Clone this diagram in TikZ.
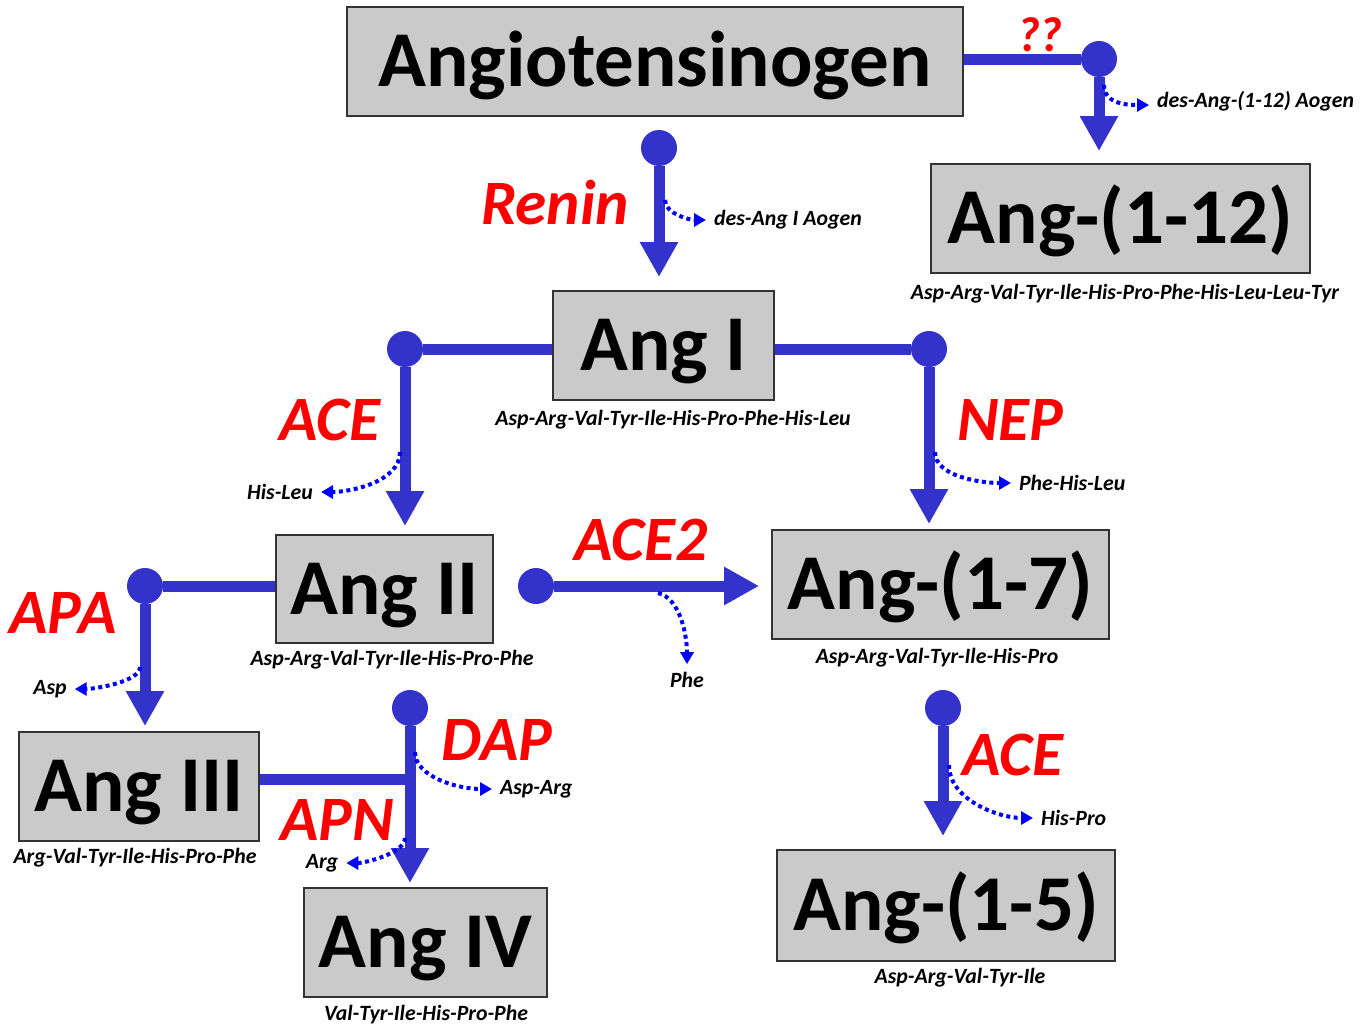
\documentclass[tikz,border=0pt]{standalone}
\usepackage{fontspec}
\setmainfont{Carlito}
\usepackage{xcolor}
\usetikzlibrary{arrows.meta}
\definecolor{pathblue}{HTML}{3333CC}
\definecolor{boxgray}{HTML}{CACACA}
\definecolor{enzred}{HTML}{FF0000}
\definecolor{cutblue}{HTML}{0000FF}

\begin{document}
\begin{tikzpicture}[x=0.02cm, y=-0.02cm,
  peptide/.style={draw=black!80, line width=1.1pt, fill=boxgray, inner sep=0pt,
    text height=29pt, text depth=0pt, font=\bfseries\fontsize{45}{50}\selectfont},
  enzyme/.style={text=enzred, inner sep=1pt, font=\bfseries\itshape\fontsize{36}{40}\selectfont},
  seqlabel/.style={inner sep=1pt, font=\bfseries\itshape\fontsize{12.4}{14}\selectfont},
  junction/.style={circle, fill=pathblue, minimum size=0.72cm, inner sep=0pt},
  flow/.style={draw=pathblue, line width=0.22cm},
  conv/.style={flow, -{Triangle[width=0.72cm,length=0.7cm]}, shorten >=#1},
  conv/.default=0.2cm,
  cut/.style={draw=cutblue, line width=0.08cm, dash pattern=on 0.08cm off 0.07cm,
    -{Triangle[width=0.26cm,length=0.24cm]}, shorten >=0.12cm}]
\useasboundingbox (0,0) rectangle (1369,1028);

% peptide boxes
\node[peptide, minimum width=12.32cm, minimum height=2.18cm] (aogen) at (655,61.5) {Angiotensinogen};
\node[peptide, minimum width=7.58cm, minimum height=2.18cm] (ang112) at (1120.5,218.5) {Ang-(1-12)};
\node[peptide, minimum width=4.42cm, minimum height=2.18cm] (angI) at (663.5,345.5) {Ang I};
\node[peptide, minimum width=4.34cm, minimum height=2.16cm] (angII) at (384.5,589) {Ang II};
\node[peptide, minimum width=6.74cm, minimum height=2.18cm] (ang17) at (940.5,584.5) {Ang-(1-7)};
\node[peptide, minimum width=4.80cm, minimum height=2.18cm] (angIII) at (139,786.5) {Ang III};
\node[peptide, minimum width=4.86cm, minimum height=2.18cm] (angIV) at (425.5,942.5) {Ang IV};
\node[peptide, minimum width=6.76cm, minimum height=2.22cm] (ang15) at (946,905.5) {Ang-(1-5)};

% sequences under the boxes
\node[seqlabel] (seq112) at (1125,294) {Asp-Arg-Val-Tyr-Ile-His-Pro-Phe-His-Leu-Leu-Tyr};
\node[seqlabel] (seqI) at (673,420) {Asp-Arg-Val-Tyr-Ile-His-Pro-Phe-His-Leu};
\node[seqlabel] (seqII) at (392,660) {Asp-Arg-Val-Tyr-Ile-His-Pro-Phe};
\node[seqlabel] (seq17) at (937,658) {Asp-Arg-Val-Tyr-Ile-His-Pro};
\node[seqlabel] (seqIII) at (135,858) {Arg-Val-Tyr-Ile-His-Pro-Phe};
\node[seqlabel] (seqIV) at (426,1015) {Val-Tyr-Ile-His-Pro-Phe};
\node[seqlabel] (seq15) at (960,978) {Asp-Arg-Val-Tyr-Ile};

% enzymes
\node[enzyme, font=\bfseries\itshape\fontsize{28}{32}\selectfont] (unknown) at (1040,35) {??};
\node[enzyme] (renin) at (555,203) {Renin};
\node[enzyme] (aceI) at (330,420) {ACE};
\node[enzyme] (nep) at (1010,420) {NEP};
\node[enzyme] (apa) at (63,613) {APA};
\node[enzyme] (acetwo) at (641,540) {ACE2};
\node[enzyme] (aceseven) at (1013,755) {ACE};
\node[enzyme] (dap) at (497,740) {DAP};
\node[enzyme] (apn) at (337,820) {APN};

% junctions
\node[junction] (j112) at (1099,59) {};
\node[junction] (jrenin) at (659,148) {};
\node[junction] (jace) at (405,349) {};
\node[junction] (jnep) at (929,349) {};
\node[junction] (japa) at (145,586) {};
\node[junction] (jacetwo) at (536,586) {};
\node[junction] (jaceseven) at (943,708) {};
\node[junction] (jdap) at (410,708) {};
\coordinate (jiii) at (410,779);

% main conversions
\draw[flow] (aogen.east |- j112) -- (j112);
\draw[conv=0.24cm] (j112) -- (j112 |- ang112.north);
\draw[conv=0.26cm] (jrenin) -- (jrenin |- angI.north);
\draw[flow] (angI.west |- jace) -- (jace);
\draw[conv=0.16cm] (jace) -- (jace |- angII.north);
\draw[flow] (angI.east |- jnep) -- (jnep);
\draw[conv=0.1cm] (jnep) -- (jnep |- ang17.north);
\draw[flow] (angII.west |- japa) -- (japa);
\draw[conv=0.1cm] (japa) -- (japa |- angIII.north);
\draw[conv=0.24cm] (jacetwo) -- (ang17.west |- jacetwo);
\draw[conv=0.26cm] (jaceseven) -- (jaceseven |- ang15.north);
\draw[flow] (angIII.east |- jiii) -- (jiii);
\draw[conv=0.08cm] (jdap) -- (jdap |- angIV.north);

% cleaved fragments
\node[seqlabel, anchor=west] (des112) at (1155,101) {des-Ang-(1-12) Aogen};
\node[seqlabel, anchor=west] (desI) at (712,220) {des-Ang I Aogen};
\node[seqlabel, anchor=east] (hisleu) at (315,492) {His-Leu};
\node[seqlabel, anchor=west] (phehisleu) at (1017,483) {Phe-His-Leu};
\node[seqlabel] (asp) at (50,689) {Asp};
\node[seqlabel] (phe) at (687,680) {Phe};
\node[seqlabel, anchor=west] (hispro) at (1039,818) {His-Pro};
\node[seqlabel, anchor=west] (asparg) at (498,789) {Asp-Arg};
\node[seqlabel] (arg) at (322,863) {Arg};

\coordinate (c112) at (1104,85);
\coordinate (crenin) at (665,200);
\coordinate (cace) at (400,452);
\coordinate (cnep) at (935,452);
\coordinate (capa) at (140,667);
\coordinate (cacetwo) at (658,593);
\coordinate (caceseven) at (949,765);
\coordinate (cdap) at (415,752);
\coordinate (capn) at (405,838);

\draw[cut] (c112) .. controls +(0,20) and +(-25,0) .. ([yshift=-0.08cm]des112.west);
\draw[cut] (crenin) .. controls +(0,14) and +(-22,0) .. (desI.west);
\draw[cut] (cace) .. controls +(0,30) and +(35,0) .. (hisleu.east);
\draw[cut] (cnep) .. controls +(0,25) and +(-35,0) .. (phehisleu.west);
\draw[cut] (capa) .. controls +(0,15) and +(25,0) .. (asp.east);
\draw[cut] (cacetwo) .. controls +(22,5) and +(0,-35) .. (phe.north);
\draw[cut] (caceseven) .. controls +(0,35) and +(-40,0) .. (hispro.west);
\draw[cut] (cdap) .. controls +(0,25) and +(-40,0) .. (asparg.west);
\draw[cut] (capn) .. controls +(0,15) and +(25,0) .. (arg.east);
\end{tikzpicture}
\end{document}
